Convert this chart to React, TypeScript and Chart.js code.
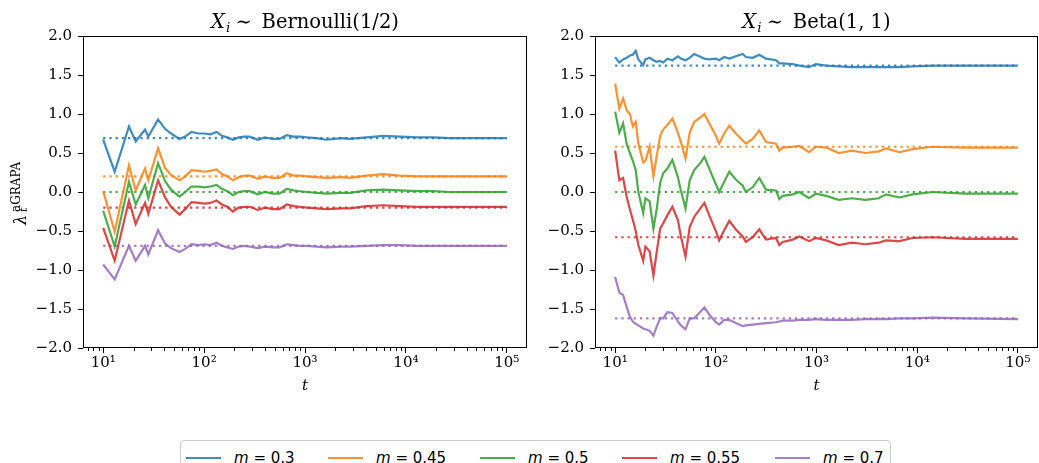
import React, { useEffect, useRef } from "react";
import { Chart, registerables } from "chart.js";
Chart.register(...registerables);

// ---------- data ----------
const M_LABELS = ["0.3", "0.45", "0.5", "0.55", "0.7"];
const COLORS = [
  "rgba(31,119,180,0.85)",
  "rgba(255,127,14,0.85)",
  "rgba(44,160,44,0.85)",
  "rgba(214,39,40,0.85)",
  "rgba(148,103,189,0.85)",
];
const X_TICKS = [10, 100, 1000, 10000, 100000];
const X_TICK_LABELS = ["10¹", "10²", "10³", "10⁴", "10⁵"];
const Y_TICKS_STEP = 0.5;
const T_START = 10;
const T_END = 100000;

// Bernoulli(1/2) panel
const T_BERN = [10, 13, 18, 21, 26, 28, 35, 41, 47, 57, 65, 75, 88, 101, 115, 133, 150, 170, 193, 220, 250, 284, 340, 400, 480, 560, 658, 770, 890, 1050, 1300, 1640, 2300, 2790, 4060, 5940, 8700, 13000, 18700, 27000, 40000, 60000, 100000];
const BERN_M030 = [0.67, 0.26, 0.84, 0.65, 0.80, 0.71, 0.93, 0.81, 0.75, 0.68, 0.71, 0.77, 0.75, 0.75, 0.74, 0.77, 0.72, 0.70, 0.67, 0.70, 0.71, 0.71, 0.67, 0.70, 0.68, 0.68, 0.73, 0.71, 0.71, 0.70, 0.69, 0.67, 0.69, 0.68, 0.70, 0.72, 0.71, 0.70, 0.70, 0.69, 0.69, 0.69, 0.69];
const BERN_M045 = [0.01, -0.51, 0.34, 0.02, 0.30, 0.15, 0.56, 0.31, 0.22, 0.15, 0.20, 0.28, 0.27, 0.26, 0.27, 0.29, 0.23, 0.20, 0.15, 0.19, 0.21, 0.21, 0.17, 0.20, 0.18, 0.18, 0.24, 0.21, 0.21, 0.20, 0.19, 0.18, 0.19, 0.18, 0.21, 0.23, 0.21, 0.20, 0.20, 0.20, 0.20, 0.20, 0.20];
const BERN_M050 = [-0.24, -0.70, 0.13, -0.16, 0.09, -0.08, 0.37, 0.14, 0.03, -0.06, 0.00, 0.07, 0.07, 0.06, 0.07, 0.09, 0.04, 0.01, -0.04, 0.00, 0.01, 0.01, -0.03, 0.00, -0.02, -0.02, 0.04, 0.02, 0.01, 0.00, -0.01, -0.02, -0.01, -0.01, 0.02, 0.03, 0.02, 0.01, 0.01, 0.00, 0.00, 0.00, 0.00];
const BERN_M055 = [-0.46, -0.88, -0.11, -0.41, -0.14, -0.28, 0.15, -0.07, -0.19, -0.29, -0.22, -0.13, -0.14, -0.15, -0.14, -0.11, -0.16, -0.19, -0.25, -0.20, -0.19, -0.19, -0.23, -0.20, -0.22, -0.22, -0.16, -0.18, -0.19, -0.20, -0.21, -0.22, -0.21, -0.21, -0.18, -0.17, -0.18, -0.19, -0.19, -0.19, -0.19, -0.19, -0.19];
const BERN_M070 = [-0.93, -1.12, -0.69, -0.88, -0.69, -0.80, -0.49, -0.66, -0.72, -0.77, -0.73, -0.67, -0.68, -0.67, -0.68, -0.65, -0.69, -0.71, -0.73, -0.70, -0.69, -0.70, -0.72, -0.70, -0.71, -0.71, -0.67, -0.68, -0.69, -0.69, -0.70, -0.71, -0.70, -0.70, -0.69, -0.68, -0.68, -0.69, -0.69, -0.69, -0.69, -0.69, -0.69];
const BERN_LIMITS = [0.69, 0.2, 0.0, -0.2, -0.69];

// Beta(1, 1) panel
const T_BETA = [10, 11, 12, 13, 14, 15, 16, 17, 19, 20, 22, 24, 26, 28, 30, 33, 37, 42, 45, 50, 55, 61, 71, 77, 86, 100, 108, 121, 136, 158, 185, 199, 232, 270, 315, 396, 427, 460, 580, 675, 843, 985, 1250, 1660, 2250, 3060, 4150, 4900, 6660, 9000, 14300, 30000, 100000];
const BETA_M030 = [1.73, 1.66, 1.70, 1.72, 1.75, 1.76, 1.81, 1.70, 1.63, 1.70, 1.72, 1.69, 1.67, 1.68, 1.66, 1.71, 1.69, 1.74, 1.71, 1.69, 1.72, 1.77, 1.73, 1.71, 1.70, 1.71, 1.69, 1.73, 1.71, 1.74, 1.77, 1.73, 1.72, 1.76, 1.71, 1.69, 1.65, 1.65, 1.64, 1.62, 1.60, 1.64, 1.62, 1.61, 1.60, 1.60, 1.60, 1.60, 1.60, 1.61, 1.62, 1.62, 1.62];
const BETA_M045 = [1.39, 1.07, 1.20, 1.05, 1.00, 0.84, 0.90, 0.62, 0.38, 0.40, 0.58, 0.20, 0.48, 0.72, 0.80, 0.86, 0.94, 0.76, 0.64, 0.43, 0.76, 0.90, 0.96, 1.00, 0.88, 0.72, 0.62, 0.75, 0.85, 0.75, 0.66, 0.62, 0.68, 0.79, 0.64, 0.62, 0.53, 0.57, 0.58, 0.59, 0.51, 0.58, 0.57, 0.50, 0.53, 0.50, 0.52, 0.56, 0.51, 0.55, 0.58, 0.57, 0.57];
const BETA_M050 = [1.03, 0.76, 0.88, 0.62, 0.50, 0.40, 0.28, 0.00, -0.27, -0.08, -0.12, -0.47, -0.20, 0.12, 0.24, 0.30, 0.41, 0.19, 0.02, -0.21, 0.15, 0.28, 0.38, 0.45, 0.30, 0.10, 0.00, 0.13, 0.26, 0.16, 0.08, 0.00, 0.06, 0.18, 0.03, 0.02, -0.09, -0.05, -0.03, 0.00, -0.08, -0.02, -0.05, -0.10, -0.08, -0.10, -0.08, -0.03, -0.07, -0.03, 0.00, -0.02, -0.02];
const BETA_M055 = [0.53, 0.15, 0.18, -0.06, -0.22, -0.36, -0.50, -0.68, -0.88, -0.70, -0.76, -1.07, -0.75, -0.47, -0.40, -0.30, -0.19, -0.36, -0.57, -0.83, -0.45, -0.32, -0.20, -0.14, -0.30, -0.50, -0.62, -0.49, -0.37, -0.48, -0.57, -0.64, -0.58, -0.48, -0.61, -0.59, -0.68, -0.64, -0.61, -0.57, -0.63, -0.59, -0.62, -0.68, -0.65, -0.67, -0.65, -0.62, -0.63, -0.59, -0.58, -0.60, -0.60];
const BETA_M070 = [-1.09, -1.29, -1.32, -1.47, -1.60, -1.66, -1.69, -1.71, -1.75, -1.76, -1.78, -1.84, -1.72, -1.62, -1.62, -1.54, -1.55, -1.66, -1.71, -1.76, -1.62, -1.62, -1.53, -1.48, -1.57, -1.67, -1.70, -1.64, -1.64, -1.68, -1.72, -1.71, -1.70, -1.69, -1.68, -1.67, -1.66, -1.65, -1.65, -1.64, -1.64, -1.63, -1.64, -1.64, -1.64, -1.63, -1.63, -1.63, -1.62, -1.62, -1.61, -1.62, -1.63];
const BETA_LIMITS = [1.62, 0.58, 0.0, -0.58, -1.62];

// ---------- styling constants ----------
const SERIF = '"DejaVu Serif", serif';
const X_MIN = Math.pow(10, 0.8);
const X_MAX = Math.pow(10, 5.2);
const CANVAS_H = 400;

const fmtY = (v: number) => {
  const s = Math.abs(v).toFixed(1);
  return v < 0 ? "\u2212" + s : s;
};

const framePlugin = {
  id: "frame",
  afterDraw(chart: any) {
    const { ctx, chartArea } = chart;
    const l = Math.round(chartArea.left) + 0.5;
    const r = Math.round(chartArea.right) - 0.5;
    const t = Math.round(chartArea.top) + 0.5;
    const b = Math.round(chartArea.bottom) - 0.5;
    ctx.save();
    ctx.strokeStyle = "#000";
    ctx.lineWidth = 1;
    ctx.strokeRect(l, t, r - l, b - t);
    ctx.restore();
  },
};

const minorTickPlugin = {
  id: "minorTicks",
  afterDraw(chart: any) {
    const { ctx, chartArea } = chart;
    const xs = chart.scales.x;
    const b = Math.round(chartArea.bottom);
    ctx.save();
    ctx.strokeStyle = "#000";
    ctx.lineWidth = 1;
    ctx.beginPath();
    for (let e = 0; e <= 5; e++) {
      for (let m = 2; m <= 9; m++) {
        const v = m * Math.pow(10, e);
        if (v <= X_MIN || v >= X_MAX) continue;
        const px = Math.round(xs.getPixelForValue(v)) + 0.5;
        ctx.moveTo(px, b);
        ctx.lineTo(px, b + 3);
      }
    }
    ctx.stroke();
    ctx.restore();
  },
};

const makeTitlePlugin = (dist: string) => ({
  id: "panelTitle",
  afterDraw(chart: any) {
    const { ctx, chartArea } = chart;
    const cx = (chartArea.left + chartArea.right) / 2;
    const y = 27.5;
    ctx.save();
    ctx.fillStyle = "#000";
    ctx.textAlign = "left";
    ctx.textBaseline = "alphabetic";
    ctx.font = `19.5px ${SERIF}`;
    const w = ctx.measureText(dist).width;
    const total = 50.5 + w;
    const x0 = cx - total / 2;
    ctx.font = `italic 19.5px ${SERIF}`;
    ctx.fillText("X", x0, y);
    ctx.font = `italic 13.5px ${SERIF}`;
    ctx.fillText("i", x0 + 15, y + 4);
    ctx.font = `19.5px ${SERIF}`;
    ctx.fillText("\u223C", x0 + 24.5, y);
    ctx.fillText(dist, x0 + 50.5, y);
    ctx.restore();
  },
});

const yLabelPlugin = {
  id: "yLabel",
  afterDraw(chart: any) {
    const { ctx } = chart;
    ctx.save();
    ctx.translate(26, 225);
    ctx.rotate(-Math.PI / 2);
    ctx.fillStyle = "#000";
    ctx.textAlign = "left";
    ctx.textBaseline = "alphabetic";
    ctx.font = `italic 16px ${SERIF}`;
    ctx.fillText("\u03BB", 0, 0);
    ctx.font = `12px ${SERIF}`;
    ctx.fillText("aGRAPA", 13, -6);
    ctx.font = `italic 11px ${SERIF}`;
    ctx.fillText("t", 13, 1);
    ctx.restore();
  },
};

function buildConfig(
  t: number[],
  series: number[][],
  limits: number[],
  dist: string,
  yAxisWidth: number,
  padRight: number,
  withYLabel: boolean
): any {
  const solid = series.map((vals, i) => ({
    label: `m = ${M_LABELS[i]}`,
    data: t.map((x, j) => ({ x, y: vals[j] })),
    borderColor: COLORS[i],
    borderWidth: 2.2,
    pointRadius: 0,
    tension: 0,
    fill: false,
  }));
  const dotted = limits.map((v, i) => ({
    label: `limit ${M_LABELS[i]}`,
    data: [
      { x: T_START, y: v },
      { x: T_END, y: v },
    ],
    borderColor: COLORS[i],
    borderWidth: 2.2,
    borderDash: [2.3, 3.9],
    pointRadius: 0,
    fill: false,
  }));
  const gridOpts = {
    drawOnChartArea: false,
    drawTicks: true,
    tickLength: 5,
    color: "#000",
    lineWidth: 1,
  };
  return {
    type: "line",
    data: { datasets: [...solid, ...dotted] },
    options: {
      responsive: false,
      animation: false,
      devicePixelRatio: 1,
      layout: { padding: { top: 36, left: 0, right: padRight, bottom: 0 } },
      plugins: {
        legend: { display: false },
        tooltip: { enabled: false },
        title: { display: false },
      },
      scales: {
        x: {
          type: "logarithmic",
          min: X_MIN,
          max: X_MAX,
          afterBuildTicks: (s: any) => {
            s.ticks = X_TICKS.map((v) => ({ value: v }));
          },
          afterFit: (s: any) => {
            s.height = 52;
            s.paddingLeft = 0;
            s.paddingRight = 0;
          },
          ticks: {
            color: "#000",
            font: { family: SERIF, size: 15 },
            padding: 1,
            maxRotation: 0,
            autoSkip: false,
            callback: (v: number) => {
              const k = X_TICKS.indexOf(v);
              return k >= 0 ? X_TICK_LABELS[k] : "";
            },
          },
          grid: gridOpts,
          border: { display: false },
          title: {
            display: true,
            text: "t",
            color: "#000",
            font: { family: SERIF, size: 15, style: "italic" },
            padding: { top: 0, bottom: 5 },
          },
        },
        y: {
          min: -2,
          max: 2,
          afterFit: (s: any) => {
            s.width = yAxisWidth;
          },
          ticks: {
            stepSize: Y_TICKS_STEP,
            color: "#000",
            font: { family: SERIF, size: 15 },
            padding: 6,
            callback: (v: number) => fmtY(v),
          },
          grid: gridOpts,
          border: { display: false },
        },
      },
    },
    plugins: [
      framePlugin,
      minorTickPlugin,
      makeTitlePlugin(dist),
      ...(withYLabel ? [yLabelPlugin] : []),
    ],
  };
}

const LEGEND_X = [186, 328, 480, 622, 775];

export default function App() {
  const leftRef = useRef<HTMLCanvasElement | null>(null);
  const rightRef = useRef<HTMLCanvasElement | null>(null);

  useEffect(() => {
    document.body.style.margin = "0";
    document.body.style.overflow = "hidden";
    const c1 = new Chart(
      leftRef.current as HTMLCanvasElement,
      buildConfig(
        T_BERN,
        [BERN_M030, BERN_M045, BERN_M050, BERN_M055, BERN_M070],
        BERN_LIMITS,
        "Bernoulli(1/2)",
        83,
        13,
        true
      )
    );
    const c2 = new Chart(
      rightRef.current as HTMLCanvasElement,
      buildConfig(
        T_BETA,
        [BETA_M030, BETA_M045, BETA_M050, BETA_M055, BETA_M070],
        BETA_LIMITS,
        "Beta(1, 1)",
        55,
        1,
        false
      )
    );
    return () => {
      c1.destroy();
      c2.destroy();
    };
  }, []);

  return (
    <div
      style={{
        position: "relative",
        width: 1039,
        height: 463,
        overflow: "hidden",
        background: "#fff",
      }}
    >
      <canvas
        ref={leftRef}
        width={540}
        height={CANVAS_H}
        style={{ position: "absolute", left: 0, top: 0, width: 540, height: CANVAS_H }}
      />
      <canvas
        ref={rightRef}
        width={499}
        height={CANVAS_H}
        style={{ position: "absolute", left: 540, top: 0, width: 499, height: CANVAS_H }}
      />
      <div
        style={{
          position: "absolute",
          left: 180,
          top: 440,
          width: 711,
          height: 40,
          border: "1px solid #cccccc",
          borderRadius: 4,
          boxSizing: "border-box",
          background: "#fff",
        }}
      />
      {M_LABELS.map((m, i) => (
        <div
          key={m}
          style={{
            position: "absolute",
            left: LEGEND_X[i],
            top: 448,
            height: 20,
            display: "flex",
            alignItems: "center",
            whiteSpace: "nowrap",
          }}
        >
          <span
            style={{
              display: "inline-block",
              width: 35,
              height: 2.2,
              background: COLORS[i],
            }}
          />
          <span
            style={{
              marginLeft: 13,
              fontFamily: '"DejaVu Sans", sans-serif',
              fontSize: 15,
              color: "#000",
              lineHeight: "20px",
            }}
          >
            <i>m</i> = {m}
          </span>
        </div>
      ))}
    </div>
  );
}
